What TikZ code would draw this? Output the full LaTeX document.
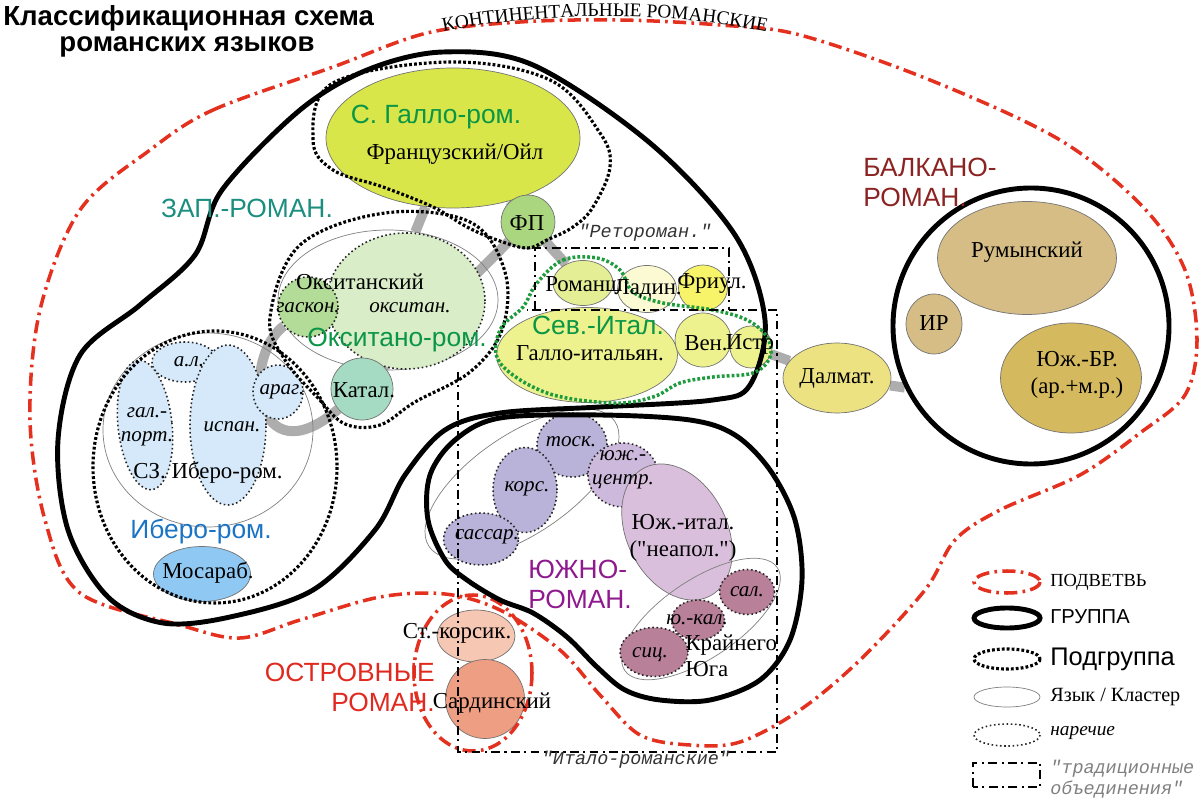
\documentclass[tikz,border=0pt]{standalone}
\usepackage{fontspec}
\setmainfont{Liberation Serif}
\setsansfont{Liberation Sans}
\setmonofont{Liberation Mono}
\newfontfamily\qfont{Liberation Serif}
\usetikzlibrary{shapes.geometric,backgrounds,decorations.text}

\definecolor{frcol}{HTML}{D9E64A}
\definecolor{fpcol}{HTML}{A9D67E}
\definecolor{occol}{HTML}{D8EDC8}
\definecolor{gascol}{HTML}{B3DC98}
\definecolor{catcol}{HTML}{A6DBC3}
\definecolor{ibcol}{HTML}{D5E9FA}
\definecolor{mozcol}{HTML}{8FC8F2}
\definecolor{rmcol}{HTML}{E4EE95}
\definecolor{ladcol}{HTML}{FBFAD2}
\definecolor{friucol}{HTML}{F8F46A}
\definecolor{gitcol}{HTML}{EDF28E}
\definecolor{dalcol}{HTML}{EDE282}
\definecolor{rumcol}{HTML}{D6BD85}
\definecolor{sbrcol}{HTML}{D5B95E}
\definecolor{tuscol}{HTML}{B9B2D9}
\definecolor{centcol}{HTML}{CDB9DC}
\definecolor{neacol}{HTML}{DABFDC}
\definecolor{extcol}{HTML}{B98099}
\definecolor{corscol}{HTML}{F6C7B2}
\definecolor{sardcol}{HTML}{EE9E83}
\definecolor{redline}{HTML}{E3301F}
\definecolor{sevline}{HTML}{1E9B3C}
\definecolor{zapcol}{HTML}{1B8E80}
\definecolor{grncol}{HTML}{0A9645}
\definecolor{ibtxt}{HTML}{1A74C4}
\definecolor{balcol}{HTML}{8B2323}
\definecolor{southcol}{HTML}{8E1A8E}
\definecolor{islcol}{HTML}{E02A20}

\tikzset{
  lang/.style={ellipse,draw=black!55,line width=0.4pt,inner sep=0pt},
  clus/.style={ellipse,draw=black!50,line width=0.4pt,inner sep=0pt},
  dial/.style={ellipse,draw=black!85,line width=0.9pt,dash pattern=on 0.9pt off 1.5pt,inner sep=0pt},
  esz/.style 2 args={minimum width=#1*0.02cm,minimum height=#2*0.02cm},
  lname/.style={inner sep=0pt,font=\fontsize{13}{15}\selectfont},
  dname/.style={inner sep=0pt,font=\fontsize{12}{13.5}\selectfont\itshape},
  gname/.style={inner sep=0pt,font=\sffamily\fontsize{15}{17}\selectfont},
  tname/.style={inner sep=0pt,text=black!80,font=\ttfamily\itshape\fontsize{10.5}{12}\selectfont},
  greybar/.style={line width=5.7pt,draw=black!32},
  grpline/.style={line width=2.8pt},
  subline/.style={line width=1.8pt,dash pattern=on 1.6pt off 1.2pt},
  branchline/.style={draw=redline,line width=2pt,dash pattern=on 7.5pt off 3pt on 1.5pt off 3pt},
  tradline/.style={line width=1.3pt,dash pattern=on 5pt off 2.5pt on 1.2pt off 2.5pt}
}

\begin{document}
\begin{tikzpicture}[x=0.02cm,y=-0.02cm]
\useasboundingbox (0,0) rectangle (1200,800);

% gallo-romance
\node[lang,esz={254}{140},fill=frcol] (fr) at (453,138) {};
\node[lang,esz={54}{54},fill=fpcol] (fp) at (528,222) {};
% occitano-romance
\node[clus,esz={220}{140}] (oc) at (388,300) {};
\node[dial,esz={158}{136},fill=occol] (ocd) at (406,301) {};
\node[dial,esz={60}{60},fill=gascol] (gas) at (308,307) {};
\node[lang,esz={62}{62},fill=catcol] (cat) at (362,389) {};
% ibero-romance
\node[clus,esz={210}{194}] (nwib) at (208,430) {};
\node[dial,esz={54}{130},fill=ibcol,rotate=6] (galp) at (145,425) {};
\node[dial,esz={66}{40},fill=ibcol] (al) at (185,362) {};
\node[dial,esz={76}{160},fill=ibcol] (isp) at (228,425) {};
\node[dial,esz={50}{54},fill=ibcol] (arag) at (278,392) {};
\node[lang,esz={97}{55},fill=mozcol] (moz) at (202,574) {};
% rhaeto / north italian
\node[lang,esz={60}{45},fill=rmcol] (rm) at (583,283) {};
\node[lang,esz={59}{47},fill=ladcol] (lad) at (647,289) {};
\node[lang,esz={49}{46},fill=friucol] (friu) at (703,288) {};
\node[lang,esz={181}{95},fill=gitcol] (git) at (587,355) {};
\node[lang,esz={56}{54},fill=gitcol] (ven) at (703,340) {};
\node[lang,esz={42}{42},fill=gitcol] (istr) at (751,347) {};
\node[lang,esz={108}{70},fill=dalcol] (dal) at (837,378) {};
% balkan
\node[lang,esz={179}{113},fill=rumcol] (rum) at (1027,258) {};
\node[lang,esz={56}{60},fill=rumcol] (ir) at (934,324) {};
\node[lang,esz={141}{110},fill=sbrcol] (sbr) at (1071,378) {};
\node[circle,draw,grpline,esz={276}{276}] (balk) at (1031,326) {};
% south
\node[clus,esz={224}{100},rotate=34] (tusc) at (522,484) {};
\node[dial,esz={70}{64},fill=tuscol] (tosk) at (572,445) {};
\node[dial,esz={64}{85},fill=tuscol] (kors) at (525,490) {};
\node[dial,esz={75}{52},fill=tuscol] (sass) at (481,539) {};
\node[dial,esz={70}{64},fill=centcol] (cent) at (623,475) {};
\node[lang,esz={100}{144},fill=neacol,rotate=27] (nea) at (677,532) {};
\node[clus,esz={184}{78},rotate=34] (ext) at (701,619) {};
\node[dial,esz={55}{45},fill=extcol] (sal) at (747,592) {};
\node[dial,esz={53}{40},fill=extcol] (kal) at (698,620) {};
\node[dial,esz={68}{49},fill=extcol] (sic) at (654,652) {};
% island
\node[lang,esz={78}{52},fill=corscol] (scors) at (476,636) {};
\node[lang,esz={79}{79},fill=sardcol] (sard) at (485,699) {};

\begin{pgfonlayer}{background}
\draw[greybar] (fr) -- (oc);
\draw[greybar] (fr) -- (fp);
\draw[greybar] (fp) -- (rm);
\draw[greybar] (fp) -- (cat);
\draw[greybar] (gas) .. controls (240,360) and (255,480) .. (cat);
\draw[greybar] (istr) -- (dal);
\draw[greybar] (dal) -- (balk.206);
\end{pgfonlayer}

% continental branch
\draw[branchline] plot[smooth cycle,tension=0.55] coordinates {(150,150) (213,110) (333,67) (427,33) (520,22) (620,20) (720,25) (800,35) (930,80) (1060,140) (1143,207) (1185,270) (1197,340) (1185,395) (1140,433) (1080,475) (1000,510) (955,540) (925,590) (860,660) (800,710) (740,742) (690,745) (640,735) (600,695) (560,650) (500,610) (445,594) (380,597) (300,620) (240,638) (180,625) (80,593) (45,520) (30,420) (40,310) (80,210)};
% island branch
\draw[branchline] (473,673) ellipse [x radius=59,y radius=78];

% groups
\draw[grpline] plot[smooth cycle,tension=0.55] coordinates {(300,110) (367,70) (443,52) (533,65) (650,143) (735,235) (765,320) (750,385) (713,400) (600,407) (500,413) (445,430) (405,475) (375,530) (313,590) (230,617) (163,623) (108,597) (68,530) (58,440) (80,355) (140,305) (195,255) (222,190)};
\draw[grpline] plot[smooth cycle,tension=0.55] coordinates {(500,418) (600,415) (690,420) (735,435) (770,470) (795,520) (802,580) (790,640) (760,680) (710,700) (660,700) (625,690) (597,667) (567,637) (533,613) (500,600) (467,580) (445,560) (428,520) (430,475) (455,440)};

% subgroups
\draw[subline] plot[smooth cycle,tension=0.6] coordinates {(313,140) (333,83) (450,62) (550,80) (600,133) (610,167) (593,207) (573,227) (547,240) (527,248) (497,240) (467,227) (433,207) (383,187) (333,170)};
\draw[subline] plot[smooth cycle,tension=0.6] coordinates {(270,317) (300,245) (385,213) (470,222) (505,272) (502,330) (470,372) (415,402) (380,425) (345,424) (318,398) (285,360)};
\draw[subline] (215,467) ellipse [x radius=122,y radius=136];
\draw[subline,draw=sevline,line width=2pt] plot[smooth cycle,tension=0.6] coordinates {(537,283) (563,260) (597,258) (620,270) (633,292) (663,303) (713,310) (747,320) (767,337) (770,357) (753,373) (713,377) (680,383) (653,397) (613,403) (547,393) (500,363) (500,330) (523,307)};

% traditional groupings
\draw[tradline] (535,310) -- (535,248) -- (729,248) -- (729,310);
\draw[tradline] (458,372) -- (458,752) -- (777,752) -- (777,310) -- (527,310);

% names
\node[lname] (tfr) at (455,154) {Французский/Ойл};
\node[lname] (tfp) at (527,223) {ФП};
\node[lname] (toc) at (360,282) {Окситанский};
\node[dname] (tgas) at (308,308) {гаскон.};
\node[dname] (tocd) at (410,308) {окситан.};
\node[lname] (tcat) at (364,390) {Катал.};
\node[dname] (tal) at (189,362) {а.л.};
\node[dname,align=center] (tgalp) at (147,427) {гал.-\\порт.};
\node[dname] (tisp) at (232,427) {испан.};
\node[dname] (tarag) at (282,392) {араг.};
\node[lname] (tnwib) at (208,473) {СЗ. Иберо-ром.};
\node[lname] (tmoz) at (208,573) {Мосараб.};
\node[lname] (trm) at (584,284) {Романш};
\node[lname] (tlad) at (648,289) {Ладин.};
\node[lname] (tfriu) at (712,283) {Фриул.};
\node[lname] (tgit) at (590,353) {Галло-итальян.};
\node[lname] (tven) at (706,343) {Вен.};
\node[lname] (tistr) at (750,344) {Истр};
\node[lname] (tdal) at (837,378) {Далмат.};
\node[lname] (trum) at (1027,252) {Румынский};
\node[lname] (tir) at (934,323) {ИР};
\node[lname,align=center] (tsbr) at (1077,375) {Юж.-БР.\\(ар.+м.р.)};
\node[dname] (ttosk) at (571,442) {тоск.};
\node[dname] (tkors) at (527,489) {корс.};
\node[dname] (tsass) at (487,537) {сассар.};
\node[dname,align=center] (tcent) at (623,470) {юж.-\\центр.};
\node[lname,align=center] (tnea) at (683,538) {Юж.-итал.\\({\qfont"}неапол.{\qfont"})};
\node[dname] (tsal) at (747,592) {сал.};
\node[dname] (tkal) at (697,620) {ю.-кал.};
\node[dname] (tsic) at (650,655) {сиц.};
\node[lname,anchor=west,align=left] (text) at (685,656) {Крайнего\\Юга};
\node[lname] (tscors) at (457,633) {Ст.-корсик.};
\node[lname] (tsard) at (492,703) {Сардинский};

% group labels
\node[gname,text=grncol] (tgal) at (436,117) {С. Галло-ром.};
\node[gname,text=grncol] (tocr) at (397,340) {Окситано-ром.};
\node[gname,text=grncol] (tsev) at (598,325) {Сев.-Итал.};
\node[gname,text=ibtxt] (tibr) at (201,532) {Иберо-ром.};
\node[gname,text=zapcol] (tzap) at (247,208) {ЗАП.-РОМАН.};
\node[gname,text=balcol,anchor=west,align=left] (tbal) at (863,182) {БАЛКАНО-\\РОМАН.};
\node[gname,text=southcol,anchor=west,align=left] (tsouth) at (528,584) {ЮЖНО-\\РОМАН.};
\node[gname,text=islcol,anchor=east,align=right] (tisl) at (435,687) {ОСТРОВНЫЕ\\РОМАН.};
\node[tname] (tret) at (645,233) {"Ретороман."};
\node[tname] (tital) at (636,760) {"Итало-романские"};

% title
\node[inner sep=0pt,anchor=west,font=\sffamily\bfseries\fontsize{15.7}{18}\selectfont] (title) at (3,18) {Классификационная схема};
\node[inner sep=0pt,font=\sffamily\bfseries\fontsize{15.7}{18}\selectfont] (title2) at (187,47) {романских языков};
\path[decorate,decoration={text along path,text align=center,text={|\fontsize{11}{13}\selectfont|КОНТИНЕНТАЛЬНЫЕ РОМАНСКИЕ}}] (425,36) .. controls (530,10) and (680,10) .. (785,36);

% legend
\draw[branchline] (1007,582) ellipse [x radius=33,y radius=11];
\draw[grpline] (1007,618) ellipse [x radius=33,y radius=10];
\draw[subline] (1007,659) ellipse [x radius=33,y radius=10];
\draw[black!50,line width=0.4pt] (1007,697) ellipse [x radius=33,y radius=10];
\draw[black!85,line width=0.9pt,dash pattern=on 0.9pt off 1.5pt] (1007,735) ellipse [x radius=33,y radius=11];
\draw[tradline] (973,787) -- (973,763) -- (1040,763) -- (1040,787) -- cycle;
\node[inner sep=0pt,anchor=west,font=\fontsize{10.5}{12}\selectfont] (lg1) at (1050,582) {ПОДВЕТВЬ};
\node[inner sep=0pt,anchor=west,font=\sffamily\fontsize{11.5}{13}\selectfont] (lg2) at (1050,617) {ГРУППА};
\node[inner sep=0pt,anchor=west,font=\sffamily\fontsize{14.5}{16}\selectfont] (lg3) at (1050,659) {Подгруппа};
\node[inner sep=0pt,anchor=west,font=\fontsize{11.5}{13}\selectfont] (lg4) at (1050,697) {Язык / Кластер};
\node[inner sep=0pt,anchor=west,font=\fontsize{11}{13}\selectfont\itshape] (lg5) at (1050,733) {наречие};
\node[tname,text=black!50,anchor=west,align=left] (lg6) at (1050,779) {"традиционные\\объединения"};
\end{tikzpicture}
\end{document}
